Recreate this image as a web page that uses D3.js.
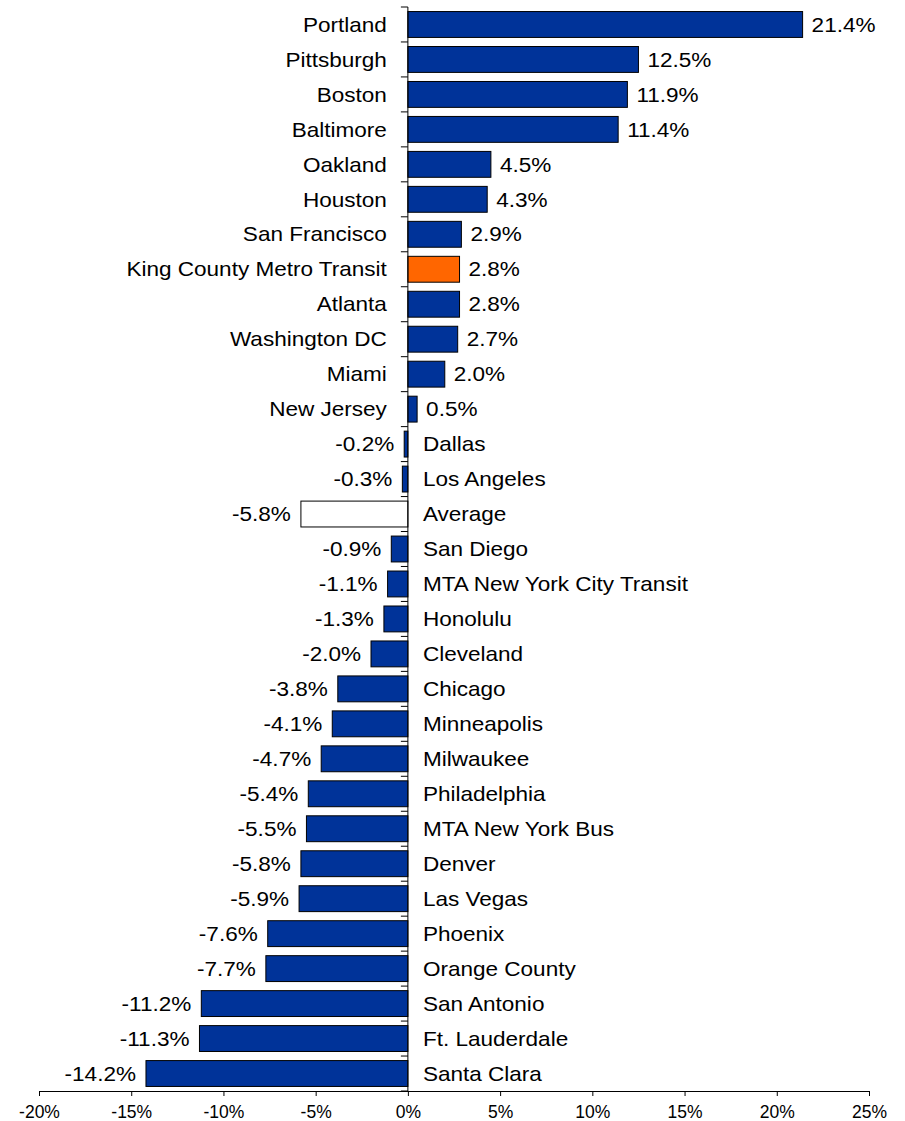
<!DOCTYPE html>
<html>
<head>
<meta charset="utf-8">
<script src="https://cdn.jsdelivr.net/npm/d3@7"></script>
<style>
  body { margin: 0; background: #fff; }
  svg { display: block; font-family: "Liberation Sans", Arial, sans-serif; }
</style>
</head>
<body>
<svg id="chart" width="905" height="1121"></svg>
<script>
const agencies = [
  "Portland", "Pittsburgh", "Boston", "Baltimore", "Oakland", "Houston",
  "San Francisco", "King County Metro Transit", "Atlanta", "Washington DC",
  "Miami", "New Jersey", "Dallas", "Los Angeles", "Average", "San Diego",
  "MTA New York City Transit", "Honolulu", "Cleveland", "Chicago",
  "Minneapolis", "Milwaukee", "Philadelphia", "MTA New York Bus", "Denver",
  "Las Vegas", "Phoenix", "Orange County", "San Antonio", "Ft. Lauderdale",
  "Santa Clara"
];
const changes = [
  21.4, 12.5, 11.9, 11.4, 4.5, 4.3, 2.9, 2.8, 2.8, 2.7, 2.0, 0.5, -0.2, -0.3,
  -5.8, -0.9, -1.1, -1.3, -2.0, -3.8, -4.1, -4.7, -5.4, -5.5, -5.8, -5.9,
  -7.6, -7.7, -11.2, -11.3, -14.2
];
const xTicks = [-20, -15, -10, -5, 0, 5, 10, 15, 20, 25];
const highlight = "King County Metro Transit";
const average = "Average";

const rows = agencies.map((name, i) => ({ name, value: changes[i] }));

const svg = d3.select("#chart");
const plotLeft = 39, plotRight = 869, plotTop = 7, plotBottom = 1091;
const stretch = 1.1; // the source text is a little wide

const x = d3.scaleLinear().domain([-20, 25]).range([plotLeft, plotRight]);
const y = d3.scaleBand()
  .domain(agencies)
  .range([plotTop, plotBottom])
  .paddingInner(0.26)
  .paddingOuter(0.13);

const color = d => d.name === highlight ? "#ff6600" : d.name === average ? "#ffffff" : "#003399";
const midY = d => y(d.name) + y.bandwidth() / 2;

// bars
svg.append("g")
  .selectAll("rect")
  .data(rows)
  .join("rect")
  .attr("x", d => x(Math.min(0, d.value)))
  .attr("y", d => y(d.name))
  .attr("width", d => Math.abs(x(d.value) - x(0)))
  .attr("height", y.bandwidth())
  .attr("fill", color)
  .attr("stroke", "#000")
  .attr("stroke-width", 1);

// x axis
const xAxis = svg.append("g")
  .attr("transform", `translate(0,${plotBottom})`)
  .call(d3.axisBottom(x).tickValues(xTicks).tickSize(5).tickFormat(d => d + "%"));
xAxis.select(".domain").attr("stroke", "#000");
xAxis.selectAll(".tick line").attr("stroke", "#000");
xAxis.selectAll(".tick text")
  .attr("y", 14.5)
  .attr("font-size", "17.5px")
  .attr("font-family", "'Liberation Sans', Arial, sans-serif")
  .attr("fill", "#000");

// y axis with ticks at band boundaries
const step = y.step();
const bounds = d3.range(agencies.length + 1).map(i => plotTop + i * step);
svg.append("line")
  .attr("x1", x(0)).attr("x2", x(0))
  .attr("y1", plotTop).attr("y2", plotBottom)
  .attr("stroke", "#000");
svg.append("g")
  .selectAll("line")
  .data(bounds)
  .join("line")
  .attr("x1", x(0) - 7).attr("x2", x(0))
  .attr("y1", d => d).attr("y2", d => d)
  .attr("stroke", "#000");

// category labels
svg.append("g")
  .selectAll("text")
  .data(rows)
  .join("text")
  .attr("transform", d => {
    const tx = d.value >= 0 ? x(0) - 21 : x(0) + 15;
    return `translate(${tx},${midY(d)}) scale(${stretch},1)`;
  })
  .attr("dy", "0.35em")
  .attr("text-anchor", d => d.value >= 0 ? "end" : "start")
  .attr("font-size", "20.5px")
  .attr("fill", "#000")
  .text(d => d.name);

// value labels
svg.append("g")
  .selectAll("text")
  .data(rows)
  .join("text")
  .attr("transform", d => {
    const tx = d.value >= 0 ? x(d.value) + 9 : x(d.value) - 10;
    return `translate(${tx},${midY(d)}) scale(${stretch},1)`;
  })
  .attr("dy", "0.35em")
  .attr("text-anchor", d => d.value >= 0 ? "start" : "end")
  .attr("font-size", "20.5px")
  .attr("fill", "#000")
  .text(d => d.value.toFixed(1) + "%");
</script>
</body>
</html>
